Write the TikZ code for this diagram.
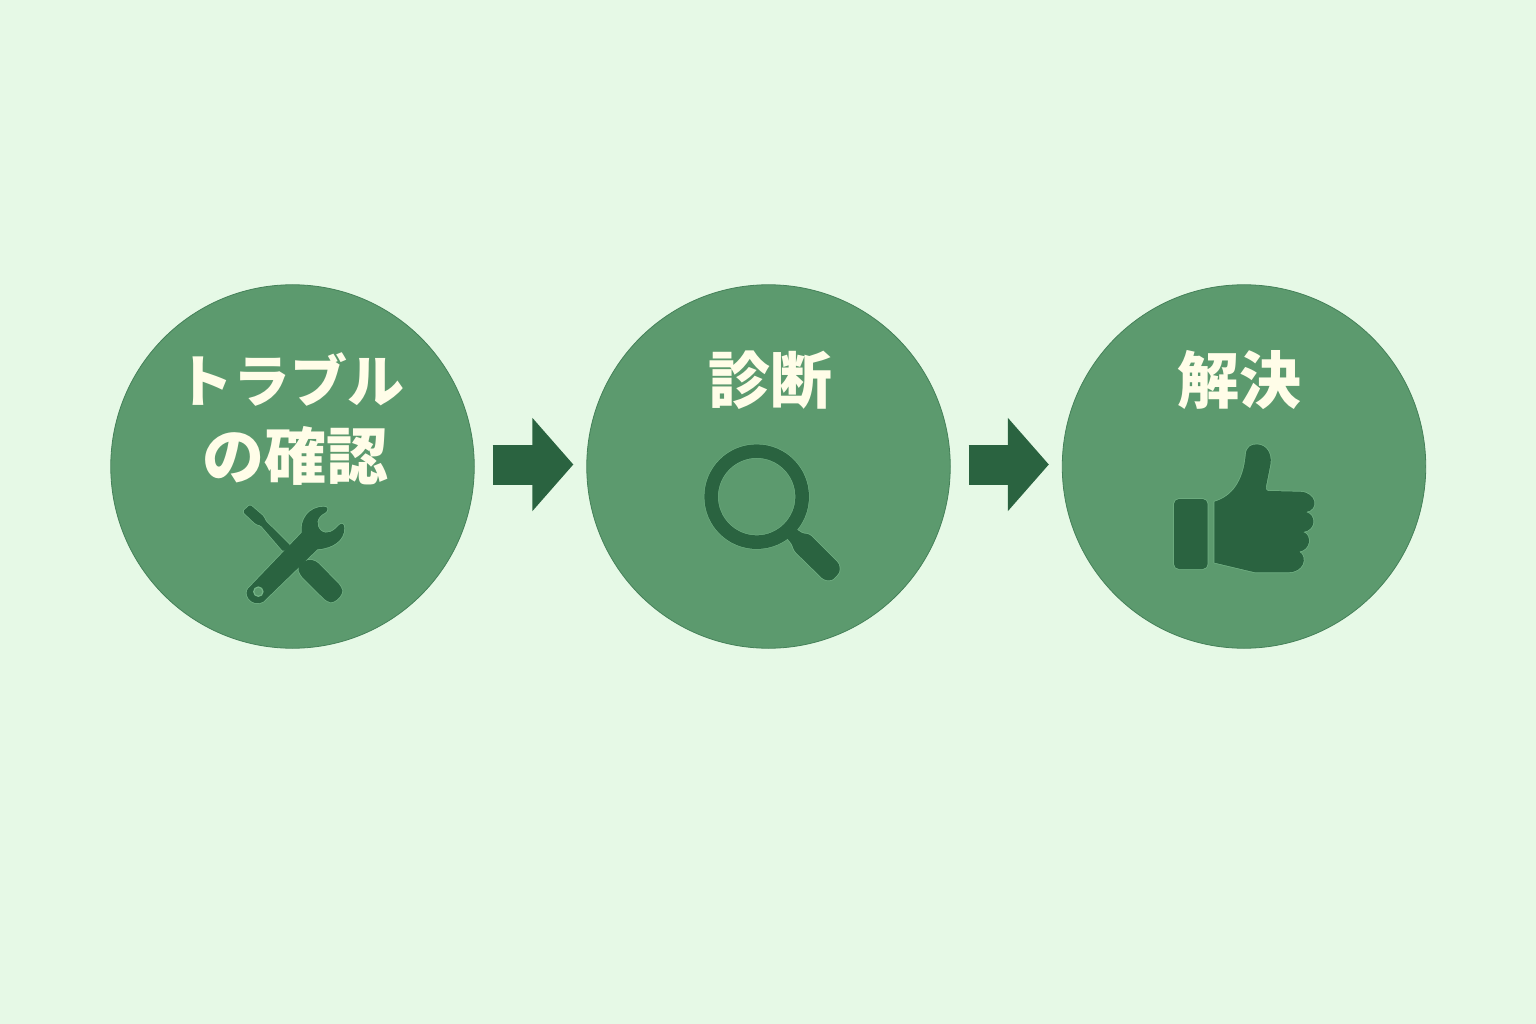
\documentclass[tikz,border=0pt]{standalone}
\usepackage{fontspec}
\newfontfamily\cjk{Noto Sans CJK JP}
\usetikzlibrary{calc,arrows.meta}

\definecolor{bgmint}{HTML}{E6F9E6}
\definecolor{circgreen}{HTML}{5C9A6E}
\definecolor{darkgreen}{HTML}{2A6340}
\definecolor{creamtext}{HTML}{FFFDE8}
\definecolor{halogreen}{HTML}{74B386}

\tikzset{
	stepcirc/.style={circle, fill=circgreen, draw=darkgreen!45!circgreen, line width=0.8pt, minimum size=363.5pt, inner sep=0pt},
	steplabel/.style={text=creamtext, inner sep=0pt, font=\cjk\bfseries\fontsize{62}{70}\selectfont},
	flowarrow/.style={draw=darkgreen, line width=40pt, -{Triangle[length=41pt,width=91pt]}, shorten <=18pt, shorten >=13pt},
	iconhalo/.style={draw=halogreen, line width=1.4pt, line join=round},
	iconfill/.style={fill=darkgreen},
}

\begin{document}
\begin{tikzpicture}[x=1pt, y=-1pt]

	\useasboundingbox (0,0) rectangle (1536,1024);
	\fill[bgmint] (0,0) rectangle (1536,1024);

	% circles
	\node[stepcirc] (check) at (292.5,466.5) {};
	\node[stepcirc] (diag) at (768.5,466.5) {};
	\node[stepcirc] (solve) at (1244,466.5) {};

	% arrows between circles
	\draw[flowarrow] ([yshift=2pt]check.east) -- ([yshift=2pt]diag.west);
	\draw[flowarrow] ([yshift=2pt]diag.east) -- ([yshift=2pt]solve.west);

	% labels
	\node[steplabel, font=\cjk\bfseries\fontsize{57}{64}\selectfont] (checkA) at ($(check)+(-2,-87)$) {トラブル};
	\node[steplabel] (checkB) at ($(check)+(3,-11)$) {の確認};
	\node[steplabel] (diagA) at ($(diag)+(2,-86)$) {診断};
	\node[steplabel] (solveA) at ($(solve)+(-5,-86)$) {解決};

	% tools icon
	\begin{scope}[shift={(220,490)}, scale=1/3]
		\foreach \layer in {iconhalo, iconfill} {
			\path[\layer, rounded corners=1.5pt]
				(68,65) -- (90,44) -- (132,80) -- (136,92) -- (212,167) -- (190,185)
				-- (122,106) -- (108,103) -- cycle;
			\path[\layer, rounded corners=4pt]
				(262,208) -- (288,212) -- (366,292) -- (368,312) -- (342,338) -- (322,336)
				-- (240,255) -- (232,230) -- cycle;
			\path[\layer]
				(85,295) -- (245,128)
				.. controls (240,90) and (265,50) .. (312,50)
				.. controls (324,50) and (326,60) .. (316,68)
				.. controls (290,80) and (285,105) .. (303,122)
				.. controls (320,135) and (340,125) .. (356,106)
				.. controls (365,97) and (374,102) .. (373,115)
				.. controls (373,150) and (340,175) .. (292,178)
				-- (130,335)
				.. controls (115,345) and (95,340) .. (85,325)
				.. controls (78,315) and (78,303) .. (85,295) -- cycle;
		}
		\filldraw[fill=circgreen, draw=halogreen, line width=1.2pt] (115,305) circle (14);
	\end{scope}

	% magnifier icon
	\begin{scope}[shift={(690,430)}, scale=1/3]
		\draw[halogreen, line width=14.6pt] (200,200) circle (136.5);
		\foreach \layer in {iconhalo, iconfill} {
			\path[\layer, rounded corners=3pt]
				(322,298) -- (335,310) -- (358,312) -- (448,402) -- (450,426) -- (426,452)
				-- (402,450) -- (312,362) -- (305,340) -- (290,325) -- (280,290) -- cycle;
		}
		\draw[darkgreen, line width=13.6pt] (200,200) circle (136.5);
	\end{scope}

	% thumb icon
	\begin{scope}[shift={(1160,435)}, scale=1/3]
		\foreach \layer in {iconhalo, iconfill} {
			\path[\layer, rounded corners=5pt] (42,192) rectangle (143,402);
			\path[\layer]
				(163,200)
				.. controls (215,185) and (250,140) .. (257,60)
				.. controls (258,35) and (275,27) .. (292,28)
				.. controls (320,30) and (335,55) .. (332,85)
				-- (318,155)
				.. controls (317,165) and (320,168) .. (330,168)
				-- (420,170)
				.. controls (470,172) and (478,225) .. (438,231)
				.. controls (470,240) and (468,285) .. (430,291)
				.. controls (458,302) and (450,345) .. (418,350)
				.. controls (445,368) and (430,412) .. (385,412)
				-- (285,412) -- (163,383) -- cycle;
		}
	\end{scope}

\end{tikzpicture}
\end{document}
